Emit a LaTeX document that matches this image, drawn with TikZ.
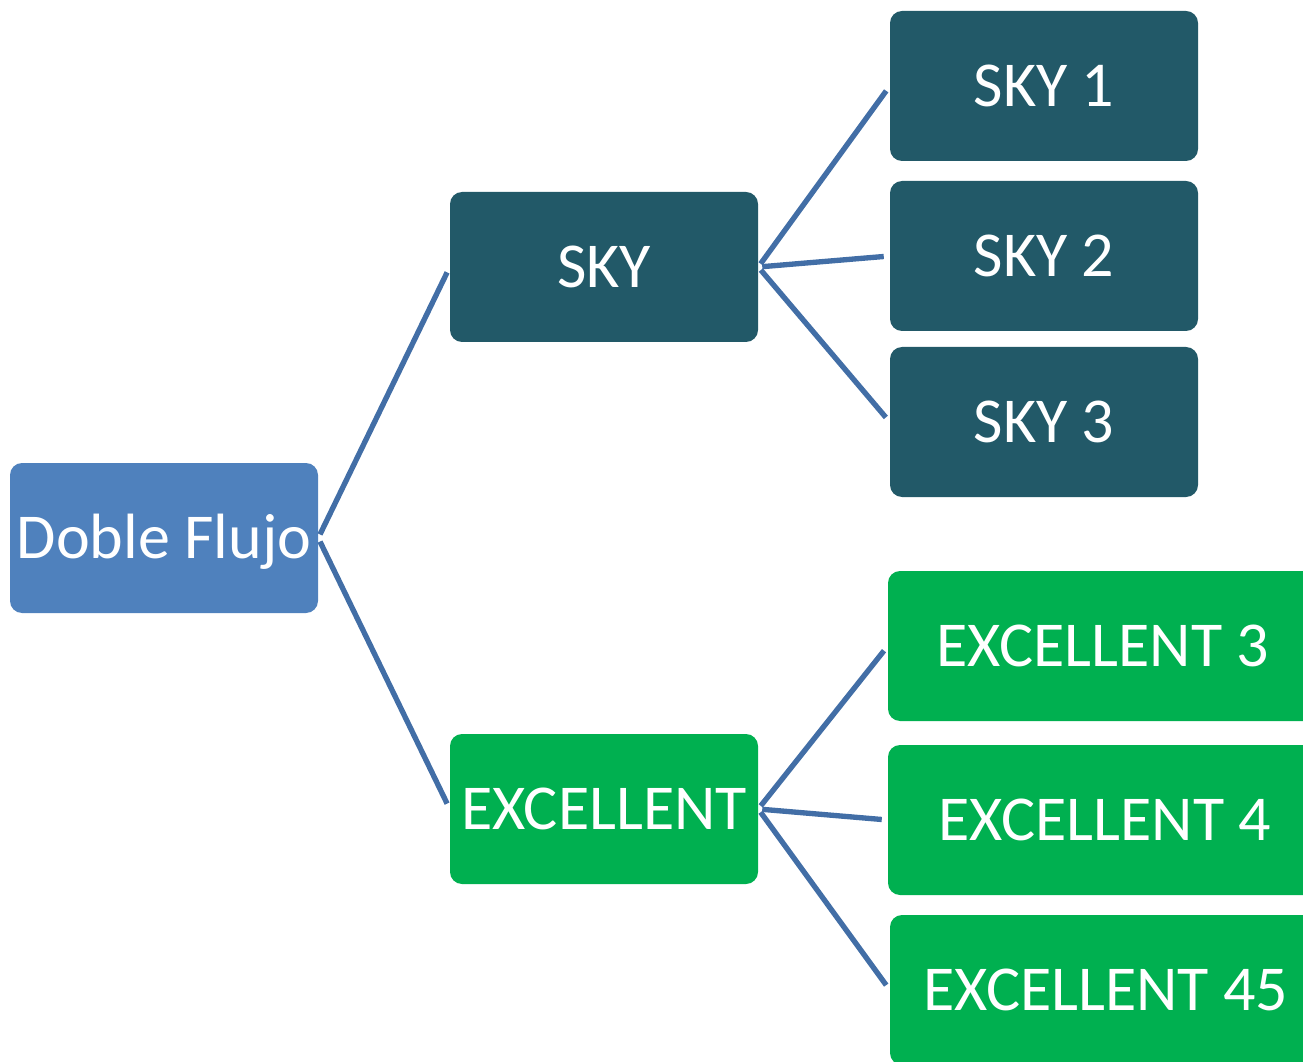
\documentclass[tikz,border=0pt]{standalone}
\usepackage{fontspec}
\setmainfont{Carlito}
\usepackage{xcolor}

\definecolor{rootblue}{RGB}{79,129,189}
\definecolor{skyteal}{RGB}{34,89,104}
\definecolor{excgreen}{RGB}{0,176,80}
\definecolor{linkblue}{RGB}{66,110,166}

\tikzset{
  box/.style={rounded corners=9pt, inner sep=2pt, text=white, minimum width=231pt, minimum height=112.5pt,
    text height=30.9pt, text depth=0pt, font=\fontsize{48}{58}\selectfont},
  rootbox/.style={box, fill=rootblue},
  skybox/.style={box, fill=skyteal},
  excbox/.style={box, fill=excgreen},
  link/.style={draw=linkblue, line width=4pt, shorten <=3pt, shorten >=4.5pt}
}

\begin{document}
\begin{tikzpicture}[x=0.75pt,y=0.75pt,yscale=-1,xscale=1]
\useasboundingbox (0,0) rectangle (1303,1062);
\clip (0,0) rectangle (1303,1062);

% Boxes
\node [rootbox] (doble) at (164,538) {Doble Flujo};
\node [skybox] (sky) at (604,267) {SKY};
\node [excbox] (exc) at (604,809) {EXCELLENT};
\node [skybox] (sky1) at (1044,86) {SKY 1};
\node [skybox] (sky2) at (1044,256) {SKY 2};
\node [skybox] (sky3) at (1044,422) {SKY 3};
\node [excbox, minimum width=322.5pt] (exc3) at (1103,646) {EXCELLENT 3};
\node [excbox, minimum width=325.5pt] (exc4) at (1105,820) {EXCELLENT 4};
\node [excbox, minimum width=324pt] (exc45) at (1106,990) {EXCELLENT 45};

% Links
\draw [link] (doble.east) -- (sky.west);
\draw [link] (doble.east) -- (exc.west);
\draw [link] (sky.east) -- (sky1.west);
\draw [link] (sky.east) -- (sky2.west);
\draw [link] (sky.east) -- (sky3.west);
\draw [link] (exc.east) -- (exc3.west);
\draw [link] (exc.east) -- (exc4.west);
\draw [link] (exc.east) -- (exc45.west);

\end{tikzpicture}
\end{document}
